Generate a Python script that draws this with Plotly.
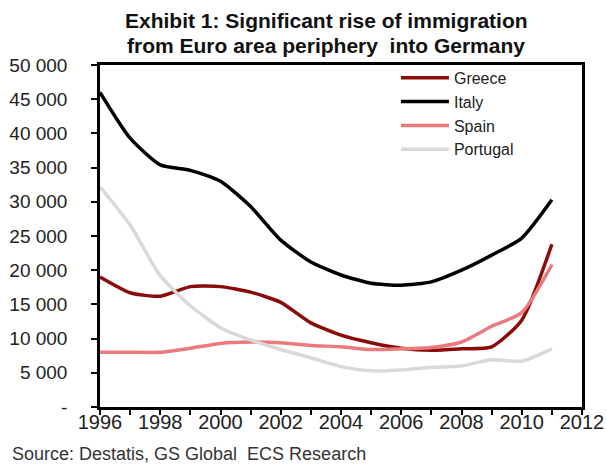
import plotly.graph_objects as go

years = list(range(1996, 2012))
greece = [19000, 16700, 16200, 17600, 17600, 16800, 15300, 12300, 10500, 9400, 8600, 8300, 8500, 8800, 12700, 23800]
italy = [46000, 39300, 35400, 34600, 33000, 29300, 24400, 21200, 19300, 18100, 17800, 18300, 20000, 22200, 24700, 30300]
spain = [8000, 8000, 8000, 8600, 9300, 9500, 9400, 9000, 8800, 8400, 8500, 8700, 9500, 11800, 13800, 20800]
portugal = [32200, 26600, 19200, 14800, 11600, 9800, 8400, 7200, 5900, 5300, 5400, 5800, 6000, 6900, 6700, 8500]

series = [("Greece", greece, "#8b0b0b"), ("Italy", italy, "#000000"),
          ("Spain", spain, "#eb7a7c"), ("Portugal", portugal, "#d9d9d9")]

y_ticks = [0, 5000, 10000, 15000, 20000, 25000, 30000, 35000, 40000, 45000, 50000]
y_labels = ["-", "5 000", "10 000", "15 000", "20 000", "25 000", "30 000", "35 000", "40 000", "45 000", "50 000"]
x_ticks = list(range(1996, 2013, 2))

title_lines = ["Exhibit 1: Significant rise of immigration", "from Euro area periphery  into Germany"]
source_text = "Source: Destatis, GS Global  ECS Research"

fig = go.Figure()
for name, vals, col in series:
    fig.add_trace(go.Scatter(x=years, y=vals, name=name, mode="lines",
                             line=dict(color=col, width=3.5, shape="spline", smoothing=0.6)))

fig.update_layout(
    width=606, height=465,
    margin=dict(l=100, r=24, t=65, b=58),
    paper_bgcolor="white", plot_bgcolor="white",
    font=dict(family="Liberation Sans, Arial", size=20, color="#222222"),
    showlegend=True,
    legend=dict(x=0.614, y=1.012, xanchor="left", yanchor="top", bgcolor="rgba(0,0,0,0)",
                font=dict(size=16, color="#222222"), tracegroupgap=0, itemwidth=48),
    xaxis=dict(range=[1996, 2012], tickvals=x_ticks, ticktext=[str(v) for v in x_ticks],
               automargin=False,
               showgrid=False, zeroline=False, showline=True, linecolor="black", linewidth=2.5,
               mirror=True, ticks="outside", ticklen=5, tickwidth=2, tickcolor="black",
               tickfont=dict(size=20, color="#222222"), ticklabelstandoff=-10,
               minor=dict(dtick=1, ticks="outside", ticklen=5, tickwidth=2, tickcolor="black")),
    yaxis=dict(range=[0, 50000], tickvals=y_ticks, ticktext=y_labels,
               automargin=False,
               showgrid=False, zeroline=False, showline=True, linecolor="black", linewidth=2.5,
               mirror=True, ticks="outside", ticklen=6, tickwidth=2, tickcolor="black",
               tickfont=dict(size=19, color="#222222"), ticklabelstandoff=20),
    annotations=[
        dict(text="<b>" + title_lines[0] + "</b>", xref="paper", yref="paper", x=0.469, y=1.0,
             yshift=45, xanchor="center", yanchor="middle", showarrow=False,
             font=dict(size=21, color="#111111")),
        dict(text="<b>" + title_lines[1] + "</b>", xref="paper", yref="paper", x=0.469, y=1.0,
             yshift=20, xanchor="center", yanchor="middle", showarrow=False,
             font=dict(size=21, color="#111111")),
        dict(text=source_text, xref="paper", yref="paper",
             x=-0.187, y=0, yshift=-47, xanchor="left", yanchor="middle", showarrow=False,
             font=dict(size=18, color="#333333")),
    ],
)

fig.write_html("out.html", config={"displayModeBar": False},
               post_script="document.body.style.margin='0px';document.body.style.overflow='hidden';")
